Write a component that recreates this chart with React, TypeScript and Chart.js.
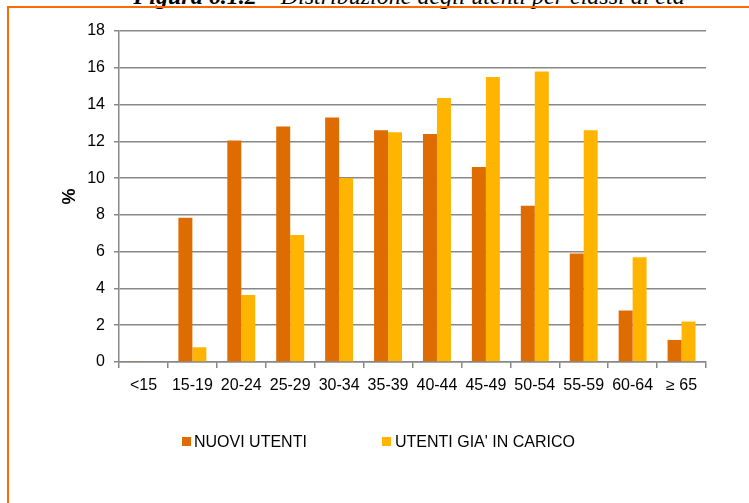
import React, { useEffect, useRef } from "react";
import { Chart, registerables } from "chart.js";

Chart.register(...registerables);

const categories = ["<15", "15-19", "20-24", "25-29", "30-34", "35-39", "40-44", "45-49", "50-54", "55-59", "60-64", "≥ 65"];
const nuoviUtenti = [0.05, 7.85, 12.05, 12.8, 13.3, 12.6, 12.4, 10.6, 8.5, 5.9, 2.8, 1.2];
const utentiInCarico = [0, 0.8, 3.65, 6.9, 10.0, 12.5, 14.35, 15.5, 15.8, 12.6, 5.7, 2.2];
const seriesNames = ["NUOVI UTENTI", "UTENTI GIA' IN CARICO"];
const seriesColors = ["#DF6C00", "#FFB500"];
const yMin = 0;
const yMax = 18;
const yStep = 2;
const yAxisTitle = "%";
const titleBold = "Figura 6.1.2";
const titleRest = " – Distribuzione degli utenti per classi di età";

const FONT = "'Liberation Sans', Arial, sans-serif";

export default function App() {
  const canvasRef = useRef<HTMLCanvasElement | null>(null);

  useEffect(() => {
    const canvas = canvasRef.current;
    if (!canvas) return;
    const chart = new Chart(canvas, {
      type: "bar",
      data: {
        labels: categories,
        datasets: [
          {
            label: seriesNames[0],
            data: nuoviUtenti,
            backgroundColor: seriesColors[0],
            barPercentage: 1,
            categoryPercentage: 0.5714,
          },
          {
            label: seriesNames[1],
            data: utentiInCarico,
            backgroundColor: seriesColors[1],
            barPercentage: 1,
            categoryPercentage: 0.5714,
          },
        ],
      },
      options: {
        animation: false,
        responsive: false,
        devicePixelRatio: 1,
        layout: { padding: { left: 50, top: 31, right: 43, bottom: 0 } },
        plugins: {
          legend: { display: false },
          tooltip: { enabled: false },
          title: { display: false },
        },
        scales: {
          x: {
            offset: true,
            grid: {
              offset: true,
              drawOnChartArea: false,
              drawTicks: true,
              tickLength: 6,
              color: "#888888",
              lineWidth: 1.5,
            },
            border: { display: true, color: "#888888", width: 1.5 },
            ticks: {
              color: "#000",
              padding: 8,
              maxRotation: 0,
              autoSkip: false,
              font: { family: FONT, size: 16 },
            },
            afterFit: (scale: any) => {
              scale.height = 141;
            },
          },
          y: {
            min: yMin,
            max: yMax,
            ticks: {
              stepSize: yStep,
              color: "#000",
              padding: 9,
              font: { family: FONT, size: 16 },
            },
            grid: {
              color: "#888888",
              lineWidth: 1.5,
              tickLength: 5,
              drawTicks: true,
            },
            border: { display: true, color: "#888888", width: 1.5 },
            title: {
              display: true,
              text: yAxisTitle,
              color: "#000",
              font: { family: FONT, size: 18, weight: "bold" },
              padding: { top: 9, bottom: 0 },
            },
            afterFit: (scale: any) => {
              scale.width = 69;
            },
          },
        },
      },
    });
    return () => chart.destroy();
  }, []);

  const legendText: React.CSSProperties = {
    position: "absolute",
    fontFamily: FONT,
    fontSize: 16,
    lineHeight: "16px",
    color: "#000",
    whiteSpace: "nowrap",
  };

  return (
    <div
      style={{
        position: "fixed",
        left: 0,
        top: 0,
        width: 749,
        height: 503,
        overflow: "hidden",
        background: "#fff",
      }}
    >
      <div
        style={{
          position: "absolute",
          left: 0,
          top: -16,
          width: 818,
          textAlign: "center",
          fontFamily: "'Liberation Serif', 'Times New Roman', serif",
          fontSize: 24,
          lineHeight: "24px",
          fontStyle: "italic",
          whiteSpace: "nowrap",
          color: "#000",
        }}
      >
        <b>{titleBold}</b>
        {titleRest}
      </div>
      <div
        style={{
          position: "absolute",
          left: 7,
          top: 6,
          width: 900,
          height: 700,
          borderTop: "2px solid #FF6A00",
          borderLeft: "2px solid #FF6A00",
        }}
      />
      <canvas
        ref={canvasRef}
        width={749}
        height={503}
        style={{ position: "absolute", left: 0, top: 0, width: 749, height: 503 }}
      />
      <div style={{ position: "absolute", left: 182, top: 437, width: 9, height: 9, background: seriesColors[0] }} />
      <div style={{ ...legendText, left: 194, top: 434 }}>{seriesNames[0]}</div>
      <div style={{ position: "absolute", left: 382, top: 437, width: 9, height: 9, background: seriesColors[1] }} />
      <div style={{ ...legendText, left: 395, top: 434 }}>{seriesNames[1]}</div>
    </div>
  );
}
